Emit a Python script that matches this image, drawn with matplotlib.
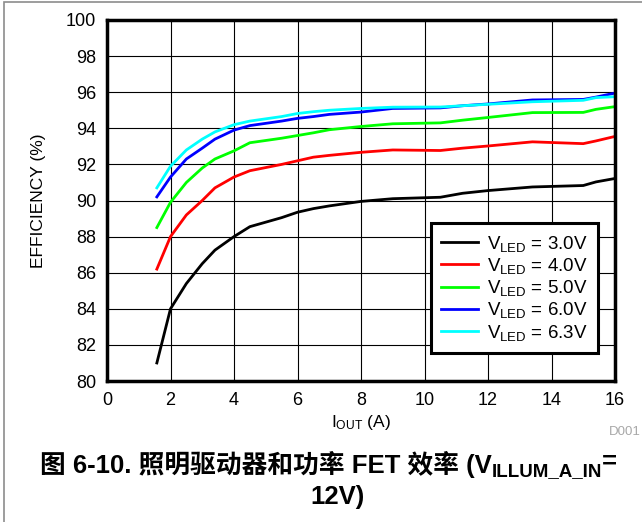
#!/usr/bin/env python3
"""
Illumination driver + power FET efficiency vs output current.
"""

import matplotlib

matplotlib.use("Agg")
import matplotlib.pyplot as plt
from matplotlib.patches import Rectangle

plt.rcParams["font.family"] = ["Liberation Sans", "Noto Sans CJK SC"]
plt.rcParams["mathtext.fontset"] = "custom"
plt.rcParams["mathtext.rm"] = "Liberation Sans"
plt.rcParams["mathtext.it"] = "Liberation Sans:italic"
plt.rcParams["mathtext.bf"] = "Liberation Sans:bold"

# output current (A)
i_out = [1.57, 2.0, 2.5, 3.0, 3.4, 4.0, 4.5, 5.5, 6.0, 6.5,
         7.0, 8.0, 9.0, 10.5, 11.2, 12.0, 13.4, 15.0, 15.4, 16.0]

# efficiency (%) per LED voltage
eff_3v0 = [81.0, 84.0, 85.4, 86.5, 87.25, 88.0, 88.55, 89.05, 89.35, 89.55,
           89.7, 89.95, 90.1, 90.18, 90.4, 90.55, 90.75, 90.83, 91.03, 91.22]
eff_4v0 = [86.2, 88.0, 89.2, 90.0, 90.7, 91.3, 91.65, 92.0, 92.2, 92.4,
           92.5, 92.67, 92.8, 92.77, 92.9, 93.02, 93.25, 93.15, 93.3, 93.55]
eff_5v0 = [88.5, 89.9, 91.0, 91.8, 92.3, 92.75, 93.2, 93.45, 93.6, 93.75,
           93.92, 94.1, 94.25, 94.3, 94.45, 94.6, 94.87, 94.88, 95.05, 95.2]
eff_6v0 = [90.2, 91.3, 92.3, 92.9, 93.4, 93.9, 94.15, 94.4, 94.55, 94.65,
           94.77, 94.9, 95.1, 95.13, 95.25, 95.35, 95.57, 95.6, 95.73, 95.95]
eff_6v3 = [90.7, 91.9, 92.8, 93.4, 93.8, 94.2, 94.4, 94.65, 94.82, 94.92,
           95.0, 95.1, 95.17, 95.18, 95.25, 95.33, 95.47, 95.55, 95.7, 95.75]

labels = ["3.0V", "4.0V", "5.0V", "6.0V", "6.3V"]
series = [eff_3v0, eff_4v0, eff_5v0, eff_6v0, eff_6v3]
colors = ["#000000", "#ff0000", "#00ff00", "#0000ff", "#00ffff"]

x_ticks = list(range(0, 17, 2))
y_ticks = list(range(80, 101, 2))


def main() -> int:
    W, H = 642, 522
    fig = plt.figure(figsize=(W / 100, H / 100), dpi=100)
    ax = fig.add_axes([107 / W, 1 - 381 / H, (615 - 107) / W, (381 - 20) / H])

    # outer frame of the figure panel
    fig.patches.append(Rectangle((4 / W, -0.05), 1.2, 1 - 2 / H + 0.05,
                                 transform=fig.transFigure, fill=False,
                                 edgecolor="#8c8c8c", linewidth=1.2))

    for vals, lab, col in zip(series, labels, colors):
        ax.plot(i_out, vals, color=col, linewidth=2.0,
                label=r"V$_{\rm LED}$ = " + lab)

    ax.set_xlim(0, 16)
    ax.set_ylim(80, 100)
    ax.set_xticks(x_ticks)
    ax.set_yticks(y_ticks)
    ax.tick_params(length=0, labelsize=13, pad=8)
    ax.grid(True, color="black", linewidth=0.8)
    for sp in ax.spines.values():
        sp.set_linewidth(2.5)

    ax.set_xlabel(r"I$_{\rm OUT}$ (A)", fontsize=12.5, labelpad=3)
    ax.set_ylabel("EFFICIENCY (%)", fontsize=12.5, labelpad=14)

    leg = ax.legend(loc="lower right", bbox_to_anchor=((598 - 107) / 508, (381 - 353) / 361),
                    borderaxespad=0, fontsize=13.5, frameon=True, fancybox=False,
                    handlelength=1.95, handletextpad=0.5, labelspacing=0.12,
                    borderpad=0.55)
    leg.get_frame().set_edgecolor("black")
    leg.get_frame().set_linewidth(2.2)
    leg.get_frame().set_alpha(1)

    fig.text(641 / W, 1 - 432 / H, "D001", fontsize=9.5, color="#a8a8a8",
             ha="right", va="center")

    # caption, built in pieces so the subscript can be bold too
    cap_kw = dict(fontsize=18.5, fontweight="bold", color="black")
    t1 = fig.text(40 / W, 1 - 464 / H, "图 6-10. 照明驱动器和功率 FET 效率 (V",
                  ha="left", va="center", **cap_kw)
    t2 = fig.text(0, 0, "ILLUM_A_IN", fontsize=13.5, fontweight="bold",
                  ha="left", va="baseline")
    fig.canvas.draw()
    r = fig.canvas.get_renderer()
    bb = t1.get_window_extent(r)
    t2.set_position((bb.x1 / fig.bbox.width, (bb.y0 + 1) / fig.bbox.height))
    fig.canvas.draw()
    bb2 = t2.get_window_extent(r)
    fig.text(bb2.x1 / fig.bbox.width, 1 - 462 / H, "=",
             ha="left", va="center", **cap_kw)
    fig.text(338 / W, 1 - 497 / H, "12V)", ha="center", va="center", **cap_kw)

    fig.savefig("out.png", dpi=100)
    plt.close(fig)
    return 0


if __name__ == "__main__":
    raise SystemExit(main())
